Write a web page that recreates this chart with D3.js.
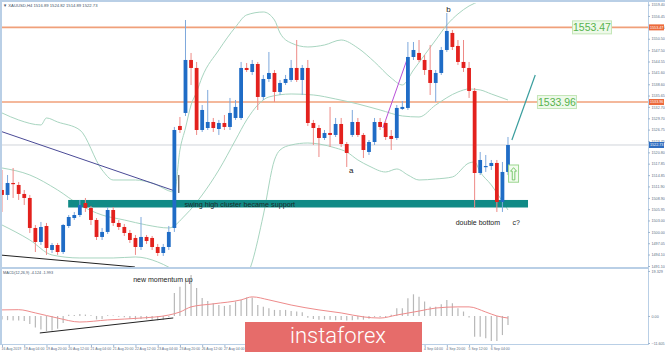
<!DOCTYPE html>
<html>
<head>
<meta charset="utf-8">
<script src="https://cdn.jsdelivr.net/npm/d3@7"></script>
<style>
  html, body { margin: 0; padding: 0; background: #fff; }
  svg { display: block; font-family: "Liberation Sans", Arial, sans-serif; }
</style>
</head>
<body>
<div id="chart"></div>
<script>
// -------- Data --------
// XAUUSD H4 candles, 16 Aug 2019 12:00 .. 6 Sep 2019 04:00
const opens = [1510.97,1509.67,1512.80,1512.28,1509.93,1508.88,1501.04,1497.38,1501.56,1495.29,1496.59,1494.76,1501.56,1503.65,1504.43,1507.57,1506.26,1503.13,1498.69,1500.00,1505.74,1502.35,1501.30,1499.73,1498.43,1496.07,1498.69,1498.43,1496.07,1494.50,1496.07,1501.04,1527.70,1531.10,1544.95,1542.86,1526.65,1527.17,1528.74,1526.91,1528.48,1527.44,1529.79,1529.79,1542.86,1541.81,1543.90,1535.28,1539.98,1541.55,1536.59,1538.94,1539.72,1542.86,1539.72,1542.86,1528.48,1527.17,1524.56,1525.87,1525.35,1528.22,1522.99,1525.35,1528.74,1525.35,1520.90,1523.51,1528.74,1528.48,1525.09,1524.56,1532.15,1532.41,1545.73,1546.78,1544.95,1542.33,1538.94,1541.55,1547.56,1552.01,1548.61,1544.43,1542.86,1536.85,1515.41,1516.98,1517.24,1518.03,1507.83,1515.68];
const highs = [1516.20,1514.89,1516.72,1513.06,1510.97,1509.67,1501.82,1502.61,1502.35,1497.12,1497.12,1502.09,1504.43,1505.22,1508.36,1508.88,1506.79,1503.65,1501.04,1506.52,1506.52,1503.13,1502.09,1500.52,1499.21,1503.91,1499.21,1498.95,1496.86,1496.86,1501.56,1527.44,1530.05,1555.40,1546.78,1544.43,1533.18,1537.11,1529.79,1529.27,1530.57,1535.02,1534.49,1544.43,1544.16,1544.95,1544.43,1541.03,1547.04,1542.33,1539.72,1541.03,1544.95,1550.17,1543.64,1544.95,1529.27,1527.96,1526.65,1532.67,1529.79,1529.79,1523.51,1531.88,1529.79,1525.87,1524.04,1529.79,1529.79,1529.27,1526.65,1533.18,1534.23,1549.65,1549.65,1550.17,1546.26,1548.87,1542.33,1548.35,1557.23,1552.79,1550.17,1550.17,1544.43,1537.63,1520.90,1520.12,1518.81,1518.81,1518.29,1524.82];
const lows = [1505.22,1508.36,1508.88,1508.36,1507.05,1499.73,1494.76,1496.59,1494.00,1494.50,1494.00,1494.24,1501.04,1503.13,1503.91,1505.22,1501.82,1497.90,1497.90,1499.47,1501.56,1500.52,1498.95,1497.12,1494.00,1495.29,1496.86,1495.29,1493.72,1493.72,1495.29,1500.00,1525.87,1530.31,1538.41,1525.35,1526.13,1526.65,1526.13,1525.35,1526.65,1526.65,1529.27,1529.27,1541.81,1541.03,1531.88,1534.49,1539.20,1533.97,1535.80,1538.41,1539.20,1539.20,1535.80,1527.70,1522.73,1519.59,1524.04,1522.21,1524.82,1522.21,1516.98,1524.82,1524.82,1519.33,1520.12,1522.73,1526.65,1524.04,1521.42,1524.04,1531.88,1531.88,1544.95,1544.43,1541.03,1535.80,1533.97,1541.03,1547.04,1547.56,1543.64,1541.81,1535.02,1506.26,1514.89,1515.68,1516.20,1505.22,1505.22,1514.89];
const closes = [1509.67,1512.80,1512.54,1509.93,1508.88,1501.04,1497.38,1501.30,1495.81,1496.59,1494.76,1501.82,1503.91,1504.43,1507.05,1506.26,1503.13,1498.69,1500.00,1505.74,1502.35,1501.30,1499.73,1497.90,1496.07,1498.69,1497.64,1496.07,1494.50,1496.07,1500.00,1526.65,1526.65,1544.95,1542.86,1526.65,1531.88,1528.74,1527.17,1528.48,1527.44,1531.10,1532.67,1542.86,1542.33,1543.90,1535.28,1539.98,1541.55,1536.59,1538.94,1539.98,1542.86,1539.72,1542.86,1528.48,1527.17,1524.56,1525.87,1525.35,1528.22,1522.99,1520.64,1528.74,1525.35,1521.42,1523.51,1528.74,1527.44,1524.82,1524.30,1532.41,1532.67,1545.73,1547.56,1544.95,1542.33,1538.94,1541.55,1547.56,1552.53,1548.35,1544.43,1542.86,1536.85,1515.41,1518.81,1517.24,1518.03,1507.83,1515.68,1522.73];

// Bollinger bands, read at [bar, price]
const bbUpper = [[0,1531.10],[3,1529.27],[7,1527.96],[8,1529.79],[10,1528.74],[14,1526.65],[18,1516.20],[20,1513.58],[24,1513.58],[27,1512.80],[31,1510.45],[32,1521.42],[33,1527.17],[34,1533.18],[35,1536.58],[36,1540.51],[39,1547.56],[42,1553.57],[44,1556.71],[47,1557.49],[49,1555.40],[50,1552.00],[52,1549.39],[55,1548.35],[58,1548.87],[61,1550.17],[64,1548.08],[67,1544.43],[70,1540.24],[72,1538.41],[74,1542.33],[76,1546.26],[78,1550.17],[80,1554.10],[82,1556.97],[84,1559.06],[86,1560.37],[88,1561.41],[91,1562.72]];
const bbMiddle = [[0,1516.72],[5,1514.89],[10,1510.97],[14,1507.05],[18,1504.43],[22,1503.13],[26,1501.82],[30,1501.04],[33,1504.43],[36,1509.67],[39,1516.20],[42,1524.04],[44,1529.27],[46,1533.18],[48,1535.28],[52,1536.06],[56,1535.80],[60,1534.75],[64,1533.45],[68,1531.88],[72,1530.31],[75,1530.05],[78,1533.18],[82,1536.58],[84,1537.37],[86,1537.11],[88,1536.06],[91,1534.49]];
const bbLower = [[0,1501.82],[5,1497.90],[9,1493.98],[14,1493.20],[20,1493.20],[24,1493.46],[28,1492.15],[32,1488.75],[36,1482.22],[40,1479.61],[42,1483.53],[45,1492.15],[47,1504.43],[49,1518.81],[50,1521.42],[52,1522.73],[55,1523.25],[57,1522.99],[60,1521.95],[62,1520.90],[64,1518.81],[66,1517.24],[69,1515.67],[71,1516.46],[73,1514.89],[75,1513.58],[78,1513.85],[81,1514.37],[84,1518.03],[85,1518.29],[86,1515.67],[88,1512.28],[89,1510.19],[91,1505.74]];

// MACD histogram per bar and signal line
const macdHist = [-1.5,-1.8,-2.0,-2.0,-2.2,-3.5,-5.0,-5.8,-6.5,-6.2,-5.5,-3.0,0.5,0.4,0.8,0.6,0.3,-1.5,-1.3,0.3,0.2,-0.3,-0.5,-1.2,-1.6,-1.2,-1.4,-1.6,-1.8,-1.6,-0.6,9.9,12.5,16.3,17.6,12.0,7.7,6.4,5.5,4.7,4.3,4.7,6.2,6.9,7.9,7.9,4.7,4.0,3.3,2.6,2.6,2.6,2.1,1.9,1.6,-0.8,-1.3,-1.6,-1.5,-1.6,-1.8,-1.7,-2.0,-1.8,-1.5,-1.6,-1.2,-0.4,-0.5,-0.4,0.5,3.3,3.3,7.6,9.3,8.3,6.2,4.0,4.0,5.0,6.9,5.5,3.3,1.9,-0.7,-8.9,-8.9,-9.6,-10.7,-10.7,-8.2,-3.9];
const macdSignal = [[0,2.6],[3,2.7],[6,1.3],[10,-0.9],[14,-2.6],[19,-1.7],[25,-0.9],[30,0.4],[32,1.7],[34,3.9],[38,5.2],[43,6.9],[45,8.2],[48,6.9],[52,4.7],[57,2.6],[61,1.3],[65,-0.4],[68,-0.9],[71,0.4],[75,2.1],[78,3.4],[82,3.9],[84,3.9],[87,1.7],[89,0.0],[91,-0.9]];

// axis labels
const priceTicks = [1559.40,1556.45,1553.45,1550.50,1547.50,1544.55,1541.60,1538.60,1535.65,1532.70,1529.70,1526.75,1523.75,1520.80,1517.85,1514.85,1511.90,1508.90,1505.95,1503.00,1500.00,1497.05,1494.10,1491.10];
const timeLabels = ['16 Aug 2019','19 Aug 04:00','19 Aug 20:00','20 Aug 12:00','21 Aug 04:00','21 Aug 20:00','22 Aug 12:00','23 Aug 04:00','23 Aug 20:00','26 Aug 12:00','27 Aug 04:00','27 Aug 20:00','28 Aug 12:00','29 Aug 04:00','29 Aug 20:00','30 Aug 12:00','2 Sep 04:00','2 Sep 20:00','3 Sep 12:00','4 Sep 04:00','4 Sep 20:00','5 Sep 12:00','6 Sep 04:00'];
const levels = [1553.47, 1533.96];
const lastPrice = 1522.73;
const macdTicks = [19.329, 0, -11.605];

// -------- Dimensions --------
const svgWidth = 665, svgHeight = 352;
const axisX = 648;
const mainTop = 3, mainBottom = 267;
const macdTop = 269, macdBottom = 344;
const tickFont = 3.7;

const svg = d3.select('#chart').append('svg')
  .attr('width', svgWidth).attr('height', svgHeight);

const x = d3.scaleLinear().domain([0, 116]).range([2, 647]);
const y = d3.scaleLinear().domain([1490.84, 1559.84]).range([mainBottom, mainTop]);
const ym = d3.scaleLinear().domain([-11.605, 19.3]).range([343, 271]);

const defs = svg.append('defs');
defs.append('clipPath').attr('id', 'clipMain').append('rect')
  .attr('x', 2).attr('y', mainTop).attr('width', axisX - 2).attr('height', mainBottom - mainTop);
defs.append('clipPath').attr('id', 'clipMacd').append('rect')
  .attr('x', 2).attr('y', macdTop).attr('width', axisX - 2).attr('height', macdBottom - macdTop);

// -------- Frame --------
const frameCol = '#b9cfe6';
svg.append('rect').attr('x', 0).attr('y', 0).attr('width', svgWidth).attr('height', 2).attr('fill', frameCol);
svg.append('rect').attr('x', 0).attr('y', 0).attr('width', 2).attr('height', macdBottom).attr('fill', frameCol);
svg.append('rect').attr('x', 0).attr('y', mainBottom).attr('width', axisX).attr('height', 2).attr('fill', frameCol);
svg.append('rect').attr('x', 0).attr('y', macdBottom).attr('width', axisX).attr('height', 1).attr('fill', frameCol);
svg.append('rect').attr('x', axisX).attr('y', 0).attr('width', 1).attr('height', macdBottom + 1).attr('fill', frameCol);

const main = svg.append('g').attr('clip-path', 'url(#clipMain)');

// current price line
main.append('line')
  .attr('x1', 2).attr('x2', axisX)
  .attr('y1', y(lastPrice)).attr('y2', y(lastPrice))
  .attr('stroke', '#d0d4da').attr('stroke-width', 1);

// horizontal levels
main.selectAll('line.level').data(levels).join('line')
  .attr('class', 'level')
  .attr('x1', 2).attr('x2', axisX)
  .attr('y1', d => y(d)).attr('y2', d => y(d))
  .attr('stroke', '#f0a07a').attr('stroke-width', 1.6);

// -------- Bollinger bands --------
const bandLine = d3.line().x(d => x(d[0])).y(d => y(d[1])).curve(d3.curveMonotoneX);
main.selectAll('path.band').data([bbUpper, bbMiddle, bbLower]).join('path')
  .attr('class', 'band')
  .attr('d', bandLine)
  .attr('fill', 'none')
  .attr('stroke', '#a8d5c0').attr('stroke-width', 1);

// support zone
main.append('rect')
  .attr('x', x(11.9)).attr('width', x(94.6) - x(11.9))
  .attr('y', y(1508.36)).attr('height', y(1506.39) - y(1508.36))
  .attr('fill', '#108a86');
main.append('text')
  .attr('x', x(32.8)).attr('y', y(1506.6))
  .attr('font-size', 7.2).attr('fill', '#1d2a2a')
  .text('swing high cluster became support');

// trend lines
const trendLines = [
  { p: [[-0.4, 1526.39], [31.1, 1510.71]], c: '#4a4a96', w: 1 },
  { p: [[31.8, 1514.89], [31.8, 1510.19]], c: '#333', w: 1 },
  { p: [[-0.4, 1493.98], [23.9, 1490.85]], c: '#222', w: 1 },
  { p: [[68.5, 1527.17], [73.0, 1545.73]], c: '#b84fd8', w: 1 },
  { p: [[91.7, 1524.04], [95.9, 1541.03]], c: '#3a9e9e', w: 1.2 }
];
main.selectAll('line.trend').data(trendLines).join('line')
  .attr('class', 'trend')
  .attr('x1', d => x(d.p[0][0])).attr('y1', d => y(d.p[0][1]))
  .attr('x2', d => x(d.p[1][0])).attr('y2', d => y(d.p[1][1]))
  .attr('stroke', d => d.c).attr('stroke-width', d => d.w);

// -------- Candles --------
const candles = opens.map((o, i) => ({ i, o, h: highs[i], l: lows[i], c: closes[i] }));
const up = '#1f6cc6', down = '#e3211d';
const cg = main.append('g');
cg.selectAll('line.wick').data(candles).join('line')
  .attr('class', 'wick')
  .attr('x1', d => x(d.i)).attr('x2', d => x(d.i))
  .attr('y1', d => y(d.h)).attr('y2', d => y(d.l))
  .attr('stroke', d => d.c >= d.o ? '#7ea8dc' : '#ee8a86').attr('stroke-width', 1);
cg.selectAll('rect.body').data(candles).join('rect')
  .attr('class', 'body')
  .attr('x', d => x(d.i) - 1.9).attr('width', 3.8)
  .attr('y', d => y(Math.max(d.o, d.c)))
  .attr('height', d => Math.max(1.2, Math.abs(y(d.o) - y(d.c))))
  .attr('fill', d => d.c >= d.o ? up : down);

// green arrow marker
const ag = main.append('g');
ag.append('rect')
  .attr('x', x(91.1)).attr('width', x(92.9) - x(91.1))
  .attr('y', y(1517.5)).attr('height', y(1513.0) - y(1517.5))
  .attr('fill', '#f3fbef').attr('stroke', '#9bd68f').attr('stroke-width', 1);
const ax = x(92), ayTop = y(1516.8), ayBot = y(1513.6);
ag.append('path')
  .attr('d', `M${ax},${ayTop} L${ax + 3},${ayTop + 3.5} L${ax + 1.3},${ayTop + 3.5} L${ax + 1.3},${ayBot} L${ax - 1.3},${ayBot} L${ax - 1.3},${ayTop + 3.5} L${ax - 3},${ayTop + 3.5} Z`)
  .attr('fill', 'none').attr('stroke', '#5cbf4f').attr('stroke-width', 0.8);

// labels on chart
const notes = [
  { t: 'b', i: 79.9, p: 1557.6, s: 8 },
  { t: 'a', i: 62.4, p: 1515.3, s: 8 },
  { t: 'double bottom', i: 81.6, p: 1501.8, s: 7 },
  { t: 'c?', i: 91.8, p: 1501.8, s: 7 }
];
main.selectAll('text.note').data(notes).join('text')
  .attr('class', 'note')
  .attr('x', d => x(d.i)).attr('y', d => y(d.p))
  .attr('font-size', d => d.s).attr('fill', '#222')
  .text(d => d.t);

// green level labels
const levelTags = [
  { v: 1553.47, i: 102.6 },
  { v: 1533.96, i: 96.3 }
];
const tg = main.selectAll('g.tag').data(levelTags).join('g').attr('class', 'tag');
tg.append('rect')
  .attr('x', d => x(d.i)).attr('y', d => y(d.v) - 6.5)
  .attr('width', 39).attr('height', 13)
  .attr('fill', '#eef9ea').attr('stroke', '#c4e6b8').attr('stroke-width', 1);
tg.append('text')
  .attr('x', d => x(d.i) + 19.5).attr('y', d => y(d.v) + 4)
  .attr('text-anchor', 'middle')
  .attr('font-size', 10.5).attr('fill', '#56b34d')
  .text(d => d.v.toFixed(2));

// header
svg.append('text').attr('x', 3).attr('y', 6.5).attr('font-size', 4.2).attr('fill', '#44556a')
  .text('\u25BC XAUUSD,H4  1516.89 1524.82 1514.89 1522.73');

// -------- Right axis --------
const yAxis = svg.append('g')
  .attr('transform', `translate(${axisX},0)`)
  .call(d3.axisRight(y).tickValues(priceTicks).tickFormat(d3.format('.2f')).tickSize(2).tickPadding(1.5));
yAxis.select('.domain').remove();
yAxis.selectAll('line').attr('stroke', '#9fb6cf');
yAxis.selectAll('text').attr('font-size', tickFont).attr('fill', '#5d6f86');

const axisTags = [
  { v: levels[0], c: '#ec6a3c' },
  { v: levels[1], c: '#ec6a3c' },
  { v: lastPrice, c: '#2f6dbf' }
];
const atg = svg.selectAll('g.atag').data(axisTags).join('g').attr('class', 'atag');
atg.append('rect')
  .attr('x', axisX + 1).attr('y', d => y(d.v) - 3)
  .attr('width', 15).attr('height', 6).attr('fill', d => d.c);
atg.append('text')
  .attr('x', axisX + 2).attr('y', d => y(d.v) + 1.4)
  .attr('font-size', tickFont).attr('fill', '#fff')
  .text(d => d.v.toFixed(2));

// -------- MACD panel --------
const macd = svg.append('g').attr('clip-path', 'url(#clipMacd)');
macd.selectAll('line.hist').data(macdHist).join('line')
  .attr('class', 'hist')
  .attr('x1', (d, i) => x(i)).attr('x2', (d, i) => x(i))
  .attr('y1', ym(0)).attr('y2', d => ym(d))
  .attr('stroke', '#b8b8b8').attr('stroke-width', 1.2);
macd.append('path')
  .datum(macdSignal)
  .attr('d', d3.line().x(d => x(d[0])).y(d => ym(d[1])).curve(d3.curveMonotoneX))
  .attr('fill', 'none').attr('stroke', '#ee8b8b').attr('stroke-width', 1);
macd.append('line')
  .attr('x1', x(6.8)).attr('y1', ym(-7.3))
  .attr('x2', x(30.8)).attr('y2', ym(-0.86))
  .attr('stroke', '#222').attr('stroke-width', 1);
macd.append('text')
  .attr('x', x(23.6)).attr('y', ym(14.5))
  .attr('font-size', 7).attr('fill', '#222')
  .text('new momentum up');

svg.append('text').attr('x', 3).attr('y', 273.5).attr('font-size', 3.8).attr('fill', '#44556a')
  .text('MACD(12,26,9) -4.124 -1.993');

const mAxis = svg.append('g')
  .attr('transform', `translate(${axisX},0)`)
  .call(d3.axisRight(ym).tickValues(macdTicks).tickFormat(d => d === 0 ? '0.00' : d3.format('.3f')(d)).tickSize(2).tickPadding(1.5));
mAxis.select('.domain').remove();
mAxis.selectAll('line').attr('stroke', '#9fb6cf');
mAxis.selectAll('text').attr('font-size', tickFont).attr('fill', '#5d6f86');

// -------- Bottom axis --------
const labelIdx = timeLabels.map((d, i) => i * 4);
const xAxis = svg.append('g')
  .attr('transform', `translate(0,${macdBottom + 1})`)
  .call(d3.axisBottom(x).tickValues(labelIdx).tickFormat((d, i) => timeLabels[i]).tickSize(2).tickPadding(1));
xAxis.select('.domain').remove();
xAxis.selectAll('line').attr('stroke', '#9fb6cf');
xAxis.selectAll('text')
  .attr('text-anchor', 'start').attr('dx', '-1')
  .attr('font-size', 3.5).attr('fill', '#5d6f86');

// -------- Watermark logo --------
const logo = svg.append('g');
logo.append('rect').attr('x', 245).attr('y', 322).attr('width', 177).attr('height', 30).attr('fill', '#e66c6a');
logo.append('text')
  .attr('x', 290).attr('y', 343)
  .attr('font-family', 'Roboto, "Open Sans", sans-serif').attr('font-weight', 300)
  .attr('font-size', 22).attr('fill', '#fff')
  .text('instaforex');
</script>
</body>
</html>
